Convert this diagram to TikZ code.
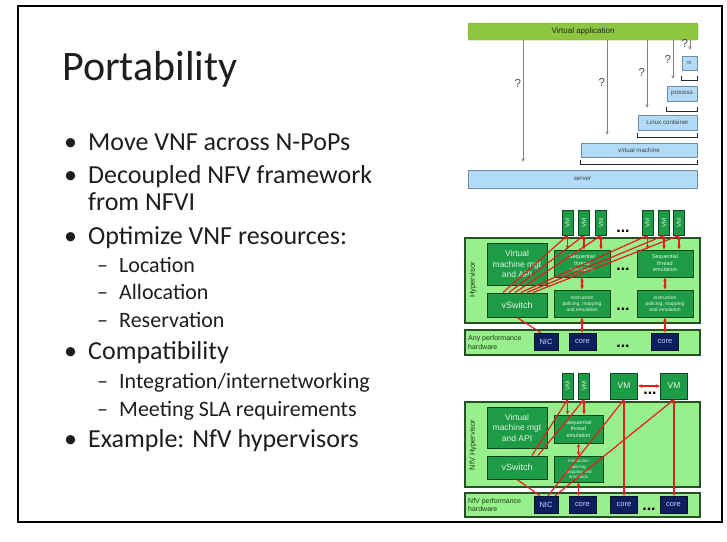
\documentclass[tikz,border=0pt]{standalone}
\usepackage{fontspec}
\usepackage{graphicx}
\setmainfont{Carlito}
\newfontfamily\diagfont{Liberation Sans}
\usetikzlibrary{arrows.meta}

\definecolor{slideink}{RGB}{30,30,30}
\definecolor{appgreen}{RGB}{141,198,63}
\definecolor{appedge}{RGB}{110,160,50}
\definecolor{layerblue}{RGB}{178,219,247}
\definecolor{layeredge}{RGB}{110,140,170}
\definecolor{qgray}{RGB}{128,128,128}
\definecolor{hvgreen}{RGB}{152,240,140}
\definecolor{hvedge}{RGB}{40,80,40}
\definecolor{hvtext}{RGB}{25,60,25}
\definecolor{fngreen}{RGB}{30,155,70}
\definecolor{fnedge}{RGB}{12,70,30}
\definecolor{fntext}{RGB}{225,245,225}
\definecolor{chipnavy}{RGB}{12,30,92}
\definecolor{chipedge}{RGB}{5,15,50}
\definecolor{chiptext}{RGB}{200,215,255}
\definecolor{linkred}{RGB}{230,30,30}

\begin{document}
\begin{tikzpicture}[
  x=1pt, y=-1pt, >={Stealth[length=4pt,width=3.5pt]},
  slidetext/.style={anchor=base west, inner sep=0pt, text=slideink},
  titletext/.style={slidetext, font=\fontsize{42}{50}\selectfont},
  bullettext/.style={slidetext, font=\fontsize{26}{31}\selectfont},
  subtext/.style={slidetext, font=\fontsize{22}{26}\selectfont},
  appbar/.style={draw=appedge, fill=appgreen, rounded corners=2pt, inner sep=0pt, text=black!85, font=\diagfont\fontsize{8}{9}\selectfont},
  layer/.style={draw=layeredge, fill=layerblue, inner sep=0pt, text=black!75, font=\diagfont\fontsize{6.2}{7}\selectfont},
  bracket/.style={line width=1.3pt, black!85},
  qarrow/.style={->, draw=qgray, line width=0.8pt, >={Stealth[length=3.5pt,width=3pt]}},
  qmark/.style={font=\diagfont\fontsize{11.5}{12}\selectfont, text=black!70, inner sep=1.5pt},
  hvbox/.style={draw=hvedge, line width=1.2pt, fill=hvgreen, inner sep=0pt},
  funcbox/.style={draw=fnedge, line width=1pt, fill=fngreen, inner sep=0pt, align=center, text=fntext},
  vmbox/.style={funcbox, minimum width=11pt, minimum height=25pt, font=\diagfont\fontsize{6}{6}\selectfont},
  hwchip/.style={draw=chipedge, fill=chipnavy, inner sep=0pt, minimum height=17pt, text=chiptext, font=\diagfont\fontsize{7.5}{8}\selectfont},
  hvlabel/.style={rotate=90, text=hvtext, font=\diagfont\fontsize{7.5}{8}\selectfont},
  hwlabel/.style={anchor=west, align=left, inner sep=0pt, text=hvtext, font=\diagfont\fontsize{7}{8.5}\selectfont},
  ellipsis/.style={anchor=base, inner sep=0pt, font=\diagfont\bfseries\fontsize{16}{16}\selectfont},
  link/.style={draw=linkred, line width=1.2pt}
]
\fill[white] (0,0) rectangle (727,541);
\useasboundingbox (0,0) rectangle (727,541);

% slide frame
\draw[line width=1.6pt] (18,6) rectangle (722,522);

% title and bullet list
\node[titletext] (title) at (62,80) {Portability};
\node[bullettext] (dotA) at (64,150) {•};
\node[bullettext] (itemA) at (88,150) {Move VNF across N-PoPs};
\node[bullettext] (dotB) at (64,183) {•};
\node[bullettext] (itemB) at (88,183) {Decoupled NFV framework};
\node[bullettext] (itemBb) at (88,210) {from NFVI};
\node[bullettext] (dotC) at (64,244) {•};
\node[bullettext] (itemC) at (88,244) {Optimize VNF resources:};
\node[subtext] (dashA) at (97,272) {–};
\node[subtext] (subA) at (119,272) {Location};
\node[subtext] (dashB) at (97,299) {–};
\node[subtext] (subB) at (119,299) {Allocation};
\node[subtext] (dashC) at (97,327) {–};
\node[subtext] (subC) at (119,327) {Reservation};
\node[bullettext] (dotD) at (64,359) {•};
\node[bullettext] (itemD) at (88,359) {Compatibility};
\node[subtext] (dashD) at (97,388) {–};
\node[subtext] (subD) at (119,388) {Integration/internetworking};
\node[subtext] (dashE) at (97,416) {–};
\node[subtext] (subE) at (119,416) {Meeting SLA requirements};
\node[bullettext] (dotE) at (64,447) {•};
\node[bullettext] (itemE) at (88,447) {Example: NfV hypervisors};

% top: where does the virtual application run?
\node[appbar, minimum width=230pt, minimum height=17pt] (app) at (583,31.5) {Virtual application};
\node[layer, minimum width=229pt, minimum height=18pt] (server) at (582.5,179) {server};
\node[layer, minimum width=116pt, minimum height=14pt] (vmach) at (639,150) {virtual machine};
\node[layer, minimum width=59pt, minimum height=15pt] (lxc) at (667.5,122.5) {Linux container};
\node[layer, minimum width=30pt, minimum height=15pt] (proc) at (682,93.5) {process};
\node[layer, minimum width=15pt, minimum height=14pt, font=\diagfont\fontsize{5}{6}\selectfont] (th) at (689.5,63) {th};

\draw[bracket] ([yshift=-3pt]vmach.south west) -- ([yshift=-7pt]vmach.south west) -- ([yshift=-7pt]vmach.south east) -- ([yshift=-3pt]vmach.south east);
\draw[bracket] ([yshift=-3pt]lxc.south west) -- ([yshift=-7pt]lxc.south west) -- ([yshift=-7pt]lxc.south east) -- ([yshift=-3pt]lxc.south east);
\draw[bracket] ([yshift=-6pt]proc.south west) -- ([yshift=-10pt]proc.south west) -- ([yshift=-10pt]proc.south east) -- ([yshift=-6pt]proc.south east);
\draw[bracket] ([yshift=-6pt]th.south west) -- ([yshift=-10pt]th.south west) -- ([yshift=-10pt]th.south east) -- ([yshift=-6pt]th.south east);

\draw[qarrow] ([xshift=-60pt]app.south) -- ([xshift=-59.5pt,yshift=8pt]server.north) node[qmark, left, pos=0.36] {?};
\draw[qarrow] ([xshift=24pt]app.south) -- ([xshift=-32pt,yshift=8pt]vmach.north) node[qmark, left, pos=0.45] {?};
\draw[qarrow] ([xshift=64pt]app.south) -- ([xshift=-20.5pt,yshift=7pt]lxc.north) node[qmark, left, pos=0.48] {?};
\draw[qarrow] ([xshift=90pt]app.south) -- ([xshift=-9pt,yshift=7pt]proc.north) node[qmark, left, pos=0.5] {?};
\draw[qarrow] ([xshift=107pt]app.south) -- ([xshift=0.5pt,yshift=6pt]th.north) node[qmark, left, pos=0.3] {?};

% middle: ordinary hypervisor
\node[hvbox, minimum width=235pt, minimum height=85pt] (hyp) at (582.5,280.5) {};
\node[hvlabel] (hyplbl) at (473,280) {Hypervisor};
\node[funcbox, minimum width=60pt, minimum height=42pt, font=\diagfont\fontsize{8.5}{10.5}\selectfont] (mgt) at (517,264) {Virtual\\machine mgt\\and API};
\node[funcbox, minimum width=60pt, minimum height=24pt, font=\diagfont\fontsize{9}{10}\selectfont] (vsw) at (517,305) {vSwitch};
\node[funcbox, minimum width=56pt, minimum height=27pt, font=\diagfont\fontsize{5.5}{6.5}\selectfont] (seqA) at (582,263.5) {Sequential\\thread\\emulation};
\node[funcbox, minimum width=56pt, minimum height=27pt, font=\diagfont\fontsize{5.5}{6.5}\selectfont] (seqB) at (665,263.5) {Sequential\\thread\\emulation};
\node[funcbox, minimum width=56pt, minimum height=27pt, font=\diagfont\fontsize{5}{6}\selectfont] (insA) at (582,303.5) {instruction\\policing, mapping\\and emulation};
\node[funcbox, minimum width=56pt, minimum height=27pt, font=\diagfont\fontsize{5}{6}\selectfont] (insB) at (665,303.5) {instruction\\policing, mapping\\and emulation};
\node[ellipsis] (dotsA) at (623,270) {...};
\node[ellipsis] (dotsB) at (623,310) {...};

\node[vmbox] (vmA1) at (567.5,222.5) {\rotatebox{90}{VM}};
\node[vmbox] (vmA2) at (584,222.5) {\rotatebox{90}{VM}};
\node[vmbox] (vmA3) at (601,222.5) {\rotatebox{90}{VM}};
\node[ellipsis] (dotsC) at (623,232) {...};
\node[vmbox] (vmB1) at (647.5,222.5) {\rotatebox{90}{VM}};
\node[vmbox] (vmB2) at (664,222.5) {\rotatebox{90}{VM}};
\node[vmbox] (vmB3) at (679,222.5) {\rotatebox{90}{VM}};

\node[hvbox, minimum width=235pt, minimum height=25pt] (hw) at (582.5,342.5) {};
\node[hwlabel] (hwlbl) at (468,342.5) {Any performance\\hardware};
\node[hwchip, minimum width=24pt] (nic) at (546,341.5) {NIC};
\node[hwchip, minimum width=27pt] (coreA) at (582.5,341.5) {core};
\node[ellipsis] (dotsD) at (623,347) {...};
\node[hwchip, minimum width=27pt] (coreB) at (665,341.5) {core};

\draw[link, <->] (vmA1.south) -- (vmA1.south |- seqA.north);
\draw[link, <->] (vmA2.south) -- (vmA2.south |- seqA.north);
\draw[link, <->] (vmA3.south) -- (vmA3.south |- seqA.north);
\draw[link, <->] (vmB1.south) -- (vmB1.south |- seqB.north);
\draw[link, <->] (vmB2.south) -- (vmB2.south |- seqB.north);
\draw[link, <->] (vmB3.south) -- (vmB3.south |- seqB.north);
\draw[link, ->] ([xshift=-14pt]vsw.north) -- (vmA1.south);
\draw[link, ->] ([xshift=-8pt]vsw.north) -- (vmA2.south);
\draw[link, ->] ([xshift=-2pt]vsw.north) -- (vmA3.south);
\draw[link, ->] ([xshift=4pt]vsw.north) -- (vmB1.south);
\draw[link, ->] ([xshift=10pt]vsw.north) -- (vmB2.south);
\draw[link, ->] ([xshift=16pt]vsw.north) -- (vmB3.south);
\draw[link, <->] (seqA.south) -- (insA.north);
\draw[link, <->] (seqB.south) -- (insB.north);
\draw[link, <->] (insA.south) -- (insA.south |- coreA.north);
\draw[link, <->] (insB.south) -- (coreB.north);
\draw[link] (vsw.south) -- ([xshift=-5pt]nic.north);

% bottom: NfV hypervisor
\node[hvbox, minimum width=235pt, minimum height=85pt] (nhyp) at (582.5,444.5) {};
\node[hvlabel] (nhyplbl) at (473,445) {NfV Hypervisor};
\node[funcbox, minimum width=60pt, minimum height=41pt, font=\diagfont\fontsize{8.5}{10.5}\selectfont] (mgt2) at (517,427.5) {Virtual\\machine mgt\\and API};
\node[funcbox, minimum width=60pt, minimum height=23pt, font=\diagfont\fontsize{9}{10}\selectfont] (vsw2) at (517,467.5) {vSwitch};
\node[funcbox, minimum width=49pt, minimum height=28pt, font=\diagfont\fontsize{5.5}{6.5}\selectfont] (seq2) at (578.5,429) {Sequential\\thread\\emulation};
\node[funcbox, minimum width=49pt, minimum height=26pt, font=\diagfont\fontsize{4.5}{5.2}\selectfont] (ins2) at (578.5,469) {instruction\\policing,\\mapping and\\emulation};

\node[vmbox, minimum height=26pt] (vmC1) at (567.5,386) {\rotatebox{90}{VM}};
\node[vmbox, minimum height=26pt] (vmC2) at (584,386) {\rotatebox{90}{VM}};
\node[funcbox, minimum width=27pt, minimum height=26pt, font=\diagfont\fontsize{8.5}{9}\selectfont] (vmD1) at (624,386) {VM};
\node[ellipsis] (dotsE) at (650,394) {...};
\node[funcbox, minimum width=27pt, minimum height=26pt, font=\diagfont\fontsize{8.5}{9}\selectfont] (vmD2) at (674,386) {VM};

\node[hvbox, minimum width=235pt, minimum height=24pt] (nhw) at (582.5,505) {};
\node[hwlabel] (nhwlbl) at (468,505) {NfV performance\\hardware};
\node[hwchip, minimum width=24pt] (nic2) at (546,504.5) {NIC};
\node[hwchip, minimum width=27pt] (coreC) at (582.5,504.5) {core};
\node[hwchip, minimum width=27pt] (coreD) at (624,504.5) {core};
\node[ellipsis] (dotsF) at (649,510) {...};
\node[hwchip, minimum width=27pt] (coreE) at (673.5,504.5) {core};

\draw[link, <->] (vmC1.south) -- (vmC1.south |- seq2.north);
\draw[link, <->] (vmC2.south) -- (vmC2.south |- seq2.north);
\draw[link, ->] ([xshift=15pt]vsw2.north) -- (vmC1.south);
\draw[link, ->] ([xshift=21pt]vsw2.north) -- (vmC2.south);
\draw[link, <->] (seq2.south) -- (ins2.north);
\draw[link, <->] (ins2.south) -- (ins2.south |- coreC.north);
\draw[link] (vsw2.south) -- ([xshift=-6pt]nic2.north);
\draw[link, ->] ([xshift=2pt]nic2.north) -- (vmD1.south);
\draw[link, ->] ([xshift=9pt]nic2.north) -- (vmD2.south);
\draw[link, <->] (vmD1.south) -- (vmD1.south |- coreD.north);
\draw[link, <->] (vmD2.south) -- (vmD2.south |- coreE.north);
\draw[link, <->] (vmD1.east) -- (vmD2.west);

\end{tikzpicture}
\end{document}
